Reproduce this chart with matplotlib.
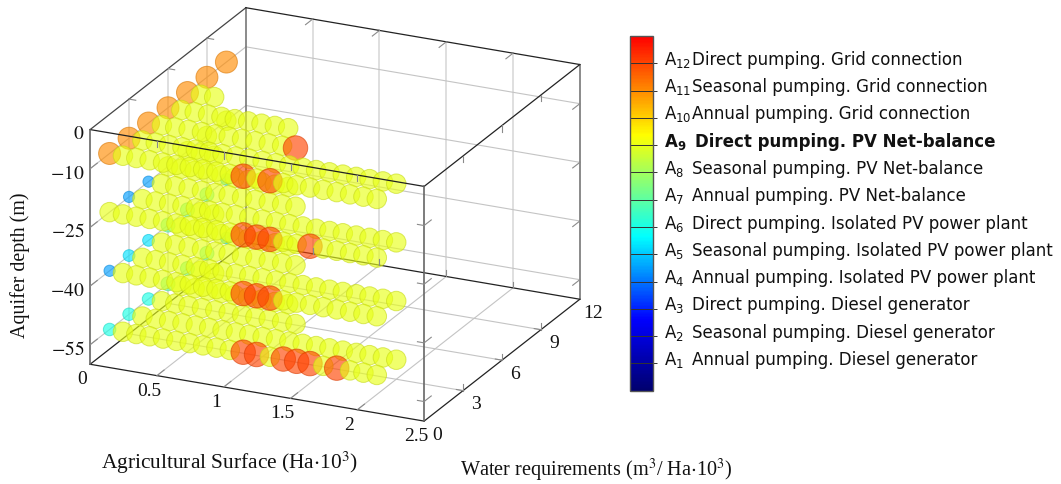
import numpy as np
import matplotlib
matplotlib.use('Agg')
import matplotlib.pyplot as plt
from matplotlib.colors import LinearSegmentedColormap, Normalize
from matplotlib.cm import ScalarMappable
from mpl_toolkits.mplot3d import proj3d

W, H = 1061, 484

# data: surface positions and the alternative read for each row
x_vals = [0.0, 0.1, 0.2, 0.3, 0.4, 0.5, 0.6, 0.7, 0.8, 0.9, 1.0,
          1.1, 1.2, 1.3, 1.4, 1.5, 1.6, 1.7, 1.8, 1.9, 2.0]
water_levels = [1.5, 3.0, 4.5, 6.0, 7.5, 9.0, 10.5]
depth_levels = [-10, -25, -40, -55]

depth10 = [
    [11, 9, 9, 9, 9, 9, 9, 9, 9, 9, 12, 9, 12, 9, 9, 9, 9, 9, 9, 9, 9],
    [11, 9, 9, 9, 9, 9, 9, 9, 9, 9, 9, 9, 9, 9, 9, 9, 9, 9, 9, 9, 9],
    [11, 9, 9, 9, 9, 9, 9, 9, 9, 9, 9, 12],
    [11, 9, 9, 9, 9, 9, 9, 9, 9, 9],
    [11, 9, 9],
    [11],
    [11],
]
depth25 = [
    [9, 9, 9, 9, 9, 9, 9, 9, 9, 9, 12, 12, 12, 9, 9, 12, 9, 9, 9, 9, 9],
    [4.5, 9, 9, 9, 9, 9, 9, 9, 9, 9, 9, 9, 9, 9, 9, 9, 9, 9, 9, 9, 9],
    [4.5, 9, 9, 9, 9, 9, 9, 9, 9, 9, 9, 9],
    [9, 9, 9, 9, 9, 9, 9, 9, 9, 9],
    [9, 9, 9],
    [9],
    [9],
]
depth40 = [
    [4.5, 9, 9, 9, 9, 9, 9, 9, 9, 9, 12, 12, 12, 9, 9, 9, 9, 9, 9, 9, 9],
    [5.3, 9, 9, 9, 9, 9, 9, 9, 9, 9, 9, 9, 9, 9, 9, 9, 9, 9, 9, 9, 9],
    [5.3, 9, 9, 9, 9, 9, 9, 9, 9, 9, 9, 9],
    [7, 9, 9, 9, 9, 9, 9, 9, 9, 9],
    [7, 9, 9],
    [7],
    [5.3],
]
depth55 = [
    [6, 9, 9, 9, 9, 9, 9, 9, 9, 9, 12, 12, 9, 12, 12, 12, 9, 12, 9, 9, 9],
    [6, 9, 9, 9, 9, 9, 9, 9, 9, 9, 9, 9, 9, 9, 9, 9, 9, 9, 9, 9, 9],
    [6, 9, 9, 9, 9, 9, 9, 9, 9, 9, 9, 9],
    [7, 9, 9, 9, 9, 9, 9, 9, 9, 9],
    [7, 9, 9],
    [7],
    [5.3],
]
depth_rows = [depth10, depth25, depth40, depth55]

x_ticks = [0, 0.5, 1, 1.5, 2, 2.5]
x_ticklabels = ['0', '0.5', '1', '1.5', '2', '2.5']
y_ticks = [0, 3, 6, 9, 12]
z_ticks = [0, -10, -25, -40, -55]
z_ticklabels = ['$0$', '$-10$', '$-25$', '$-40$', '$-55$']

alt_numbers = [12, 11, 10, 9, 8, 7, 6, 5, 4, 3, 2, 1]
alt_names = ['Direct pumping. Grid connection',
             'Seasonal pumping. Grid connection',
             'Annual pumping. Grid connection',
             'Direct pumping. PV Net-balance',
             'Seasonal pumping. PV Net-balance',
             'Annual pumping. PV Net-balance',
             'Direct pumping. Isolated PV power plant',
             'Seasonal pumping. Isolated PV power plant',
             'Annual pumping. Isolated PV power plant',
             'Direct pumping. Diesel generator',
             'Seasonal pumping. Diesel generator',
             'Annual pumping. Diesel generator']

# bubble diameter in pixels for a given alternative
size_keys = [4, 5, 6, 7, 9, 11, 12]
size_px = [11, 11.5, 12.5, 14, 19.5, 22, 24.5]

serif = ['Liberation Serif', 'DejaVu Serif']
XMAX, YMAX, ZMIN, ZMAX = 2.5, 12, -60, 0

cmap = LinearSegmentedColormap.from_list('barjet', [
    (0.0, '#00006e'), (0.2, '#0000ff'), (0.434, '#00ffff'),
    (0.72, '#ffff00'), (1.0, '#ff0000')])
norm = Normalize(0, 13)

xs, ys, zs, vals = [], [], [], []
for depth, rows in zip(depth_levels, depth_rows):
    for water, row in zip(water_levels, rows):
        for x, v in zip(x_vals, row):
            xs.append(x)
            ys.append(water)
            zs.append(depth)
            vals.append(v)
vals = np.array(vals)

fig = plt.figure(figsize=(W / 100, H / 100), dpi=100)

# cube placement, in pixels of the picture
side = 562
left, bottom = 46.4, -19
ax = fig.add_axes([left / W, bottom / H, side / W, side / H], projection='3d',
                  proj_type='ortho', computed_zorder=False)
ax.view_init(elev=21.4, azim=-65)
ax.set_box_aspect((1, 1, 0.684))
ax.set_axis_off()
ax.patch.set_alpha(0)

# grid on the back walls
grid_c = '#c4c4c4'
for t in x_ticks[1:-1]:
    ax.plot([t, t], [0, YMAX], [ZMIN, ZMIN], color=grid_c, lw=0.8, zorder=1)
    ax.plot([t, t], [YMAX, YMAX], [ZMIN, ZMAX], color='#dcdcdc', lw=1.3, zorder=1)
for t in y_ticks[1:-1]:
    ax.plot([0, XMAX], [t, t], [ZMIN, ZMIN], color=grid_c, lw=0.8, zorder=1)
    ax.plot([0, 0], [t, t], [ZMIN, ZMAX], color='#dcdcdc', lw=1.3, zorder=1)
for t in z_ticks[1:]:
    ax.plot([0, 0], [0, YMAX], [t, t], color=grid_c, lw=0.8, zorder=1)
    ax.plot([0, XMAX], [YMAX, YMAX], [t, t], color=grid_c, lw=0.8, zorder=1)

# back edges of the box
for ex, ey, ez, c, w in [([0, 0], [0, YMAX], [ZMIN, ZMIN], '#222222', 0.9),
                         ([0, XMAX], [YMAX, YMAX], [ZMIN, ZMIN], '#222222', 0.9),
                         ([0, 0], [YMAX, YMAX], [ZMIN, ZMAX], '#777777', 1.2),
                         ([0, 0], [0, YMAX], [ZMAX, ZMAX], '#444444', 0.9),
                         ([0, XMAX], [YMAX, YMAX], [ZMAX, ZMAX], '#222222', 0.9),
                         ([XMAX, XMAX], [YMAX, YMAX], [ZMIN, ZMAX], '#777777', 1.2),
                         ([XMAX, XMAX], [0, YMAX], [ZMAX, ZMAX], '#222222', 0.9),
                         ([XMAX, XMAX], [0, YMAX], [ZMIN, ZMIN], '#222222', 0.9)]:
    ax.plot(ex, ey, ez, color=c, lw=w, zorder=1.5)

rgba = cmap(norm(vals))
face = rgba.copy()
face[:, 3] = 0.64
edge = rgba.copy()
edge[:, :3] = edge[:, :3] * 0.85
edge[:, 3] = 0.6
diam_pt = np.interp(vals, size_keys, size_px) * 0.72
ax.scatter(xs, ys, zs, s=diam_pt ** 2, c=face, edgecolors=edge, linewidths=0.7,
           depthshade=False, zorder=2)

# front edges, over the bubbles
for ex, ey, ez, c, w in [([0, XMAX], [0, 0], [ZMAX, ZMAX], '#222222', 0.9),
                         ([0, XMAX], [0, 0], [ZMIN, ZMIN], '#222222', 0.9),
                         ([0, 0], [0, 0], [ZMIN, ZMAX], '#666666', 1.2),
                         ([XMAX, XMAX], [0, 0], [ZMIN, ZMAX], '#666666', 1.2)]:
    ax.plot(ex, ey, ez, color=c, lw=w, zorder=3)


def tick3d(x, y, z, dx, dy, dz):
    ax.plot([x, x + dx], [y, y + dy], [z, z + dz], color='#8a8a8a', lw=0.8, zorder=3)


# tick marks on the box edges
tx, ty, tz = 0.05, 0.55, 1.6
for t in x_ticks[1:-1]:
    tick3d(t, 0, ZMIN, 0, ty, 0)
    tick3d(t, YMAX, ZMIN, 0, 0, tz)
    tick3d(t, YMAX, ZMAX, 0, -ty, 0)
    tick3d(t, 0, ZMAX, 0, 0, -tz)
for t in y_ticks[1:-1]:
    tick3d(XMAX, t, ZMIN, 0, 0, tz)
    tick3d(XMAX, t, ZMIN, -tx, 0, 0)
    tick3d(XMAX, t, ZMAX, 0, 0, -tz)
    tick3d(0, t, ZMAX, tx, 0, 0)
for t in z_ticks[1:]:
    tick3d(0, 0, t, 0, ty, 0)
    tick3d(XMAX, 0, t, -tx, 0, 0)
    tick3d(XMAX, 0, t, 0, ty, 0)
    tick3d(XMAX, YMAX, t, 0, -ty, 0)

ax.set_xlim(0, XMAX, view_margin=0)
ax.set_ylim(0, YMAX, view_margin=0)
ax.set_zlim(ZMIN, ZMAX, view_margin=0)


def label3d(x, y, z, s, dx, dy, ha='center'):
    # dx, dy in pixels from the projected point, y pointing down
    px, py, _ = proj3d.proj_transform(x, y, z, ax.get_proj())
    ax.annotate(s, (px, py), xycoords='data', xytext=(dx * 0.72, -dy * 0.72),
                textcoords='offset points', ha=ha, va='center', fontsize=14,
                family=serif, math_fontfamily='stix', color='#111111',
                annotation_clip=False)


for t, s in zip(x_ticks, x_ticklabels):
    label3d(t, 0, ZMIN, s, -8, 15.5)
for t in y_ticks:
    label3d(XMAX, t, ZMIN, str(t), 13, 14)
for t, s in zip(z_ticks, z_ticklabels):
    label3d(0, 0, t, s, -6, 5, ha='right')

axis_text = dict(ha='center', va='center', family=serif, math_fontfamily='stix',
                 color='#111111')
fig.text(229 / W, 1 - 463 / H, 'Agricultural Surface (Ha$\\cdot$10$^3$)',
         fontsize=15.4, **axis_text)
fig.text(596 / W, 1 - 470 / H, 'Water requirements (m$^3$/ Ha$\\cdot$10$^3$)',
         fontsize=14.6, **axis_text)
fig.text(20.5 / W, 1 - 265 / H, 'Aquifer depth (m)', rotation=90, fontsize=14.4,
         **axis_text)

# colour bar used as the legend of the alternatives
cax = fig.add_axes([629.5 / W, 1 - 390.7 / H, 23.5 / W, 354.7 / H])
cb = fig.colorbar(ScalarMappable(norm=norm, cmap=cmap), cax=cax)
cb.set_ticks(alt_numbers)
cb.set_ticklabels([])
cb.ax.tick_params(axis='y', direction='out', length=3, width=0.7, color='#333333')
cb.outline.set_edgecolor('#555555')
cb.outline.set_linewidth(1.0)
for n, name in zip(alt_numbers, alt_names):
    cax.axhline(n, color='#333333', lw=0.7)
    bold = n == 9
    tag = '$\\mathbf{A_{%d}}$' % n if bold else 'A$_{%d}$' % n
    weight = 'bold' if bold else 'normal'
    cax.annotate(tag, (1, n), xycoords=cax.get_yaxis_transform(),
                 xytext=(8, 2.5), textcoords='offset points', va='center',
                 fontsize=12, fontweight=weight, color='#111111')
    cax.annotate(name, (1, n), xycoords=cax.get_yaxis_transform(),
                 xytext=(30 if bold else 28, 2.5), textcoords='offset points',
                 va='center', fontsize=12, fontweight=weight, color='#111111')

fig.savefig('out.png', dpi=100)
